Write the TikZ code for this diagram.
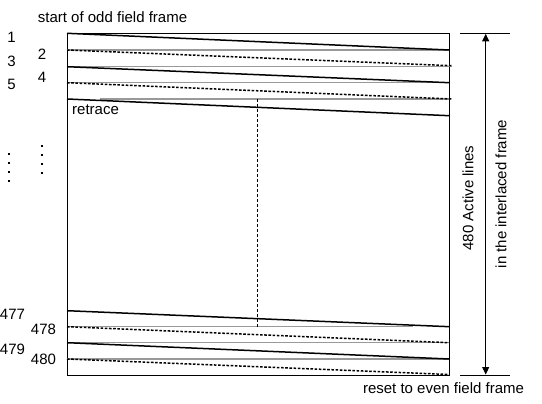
\documentclass[tikz,border=0pt]{standalone}
\usepackage{fontspec}
\setmainfont{Liberation Sans}
\usetikzlibrary{arrows.meta}
\begin{document}
\begin{tikzpicture}[x=1pt,y=-1pt,
  lbl/.style={inner sep=0pt,font=\fontsize{15}{17}\selectfont},
  scanline/.style={line width=1.5pt,black},
  evenline/.style={line width=1.5pt,black,dash pattern=on 2.6pt off 1.6pt},
  grayline/.style={line width=1.5pt,black!40},
  frame/.style={line width=1pt,black},
  dot/.style={fill=black,inner sep=0pt,minimum size=1.8pt,rectangle}]
\useasboundingbox (0,0) rectangle (542,404);
% box
\draw[frame] (67,33.3) rectangle (449.3,375);
% gray horizontal retrace lines
\draw[grayline] (67,50) -- (449.3,50);
\draw[grayline] (67,66.7) -- (452,66.7);
\draw[grayline] (67,82.7) -- (449.3,82.7);
\draw[grayline] (100,99) -- (449.3,99);
\draw[grayline] (67,326.7) -- (413,326.7);
\draw[grayline] (67,342.7) -- (449.3,342.7);
\draw[grayline] (67,359) -- (449.3,359);
% scan lines
\coordinate (l1a) at (67,33.3);  \coordinate (l1b) at (449.3,50);
\coordinate (l2a) at (67,50);    \coordinate (l2b) at (451.5,65.7);
\coordinate (l3a) at (67,66.7);  \coordinate (l3b) at (449.3,82.7);
\coordinate (l4a) at (67,82.7);  \coordinate (l4b) at (451.5,99);
\coordinate (l5a) at (67,99);    \coordinate (l5b) at (449.3,115.7);
\draw[scanline] (l1a) -- (l1b);
\draw[evenline] (l2a) -- (l2b);
\draw[scanline] (l3a) -- (l3b);
\draw[evenline] (l4a) -- (l4b);
\draw[scanline] (l5a) -- (l5b);
\coordinate (m1a) at (67,310.7);  \coordinate (m1b) at (449.3,326.7);
\coordinate (m2a) at (67,326.7);  \coordinate (m2b) at (449.3,342.7);
\coordinate (m3a) at (67,342.7);  \coordinate (m3b) at (449.3,359);
\coordinate (m4a) at (67,359);    \coordinate (m4b) at (449.3,374.5);
\draw[scanline] (m1a) -- (m1b);
\draw[evenline] (m2a) -- (m2b);
\draw[scanline] (m3a) -- (m3b);
\draw[evenline] (m4a) -- (m4b);
% dashed vertical
\coordinate (va) at (257.3,99);
\coordinate (vb) at (257.3,327);
\draw[line width=0.8pt,dash pattern=on 3pt off 2pt] (va) -- (vb);
% right dimension
\coordinate (t1) at (460,33.3); \coordinate (t2) at (510,33.3);
\coordinate (b1) at (460,375);  \coordinate (b2) at (510,375);
\draw[line width=1pt] (t1) -- (t2);
\draw[line width=1pt] (b1) -- (b2);
\coordinate (at) at (485.7,33.8);
\coordinate (ab) at (485.7,374.5);
\draw[line width=1pt,{Triangle[length=7.5pt,width=7pt]}-{Triangle[length=7.5pt,width=7pt]}] (at) -- (ab);
% labels
\node[lbl] (start) at (112.5,17) {start of odd field frame};
\node[lbl] (n1) at (11.5,37.5) {1};
\node[lbl] (n3) at (11.5,61) {3};
\node[lbl] (n5) at (11.5,84) {5};
\node[lbl] (n2) at (42,54) {2};
\node[lbl] (n4) at (42,77.5) {4};
\node[lbl,anchor=west] (retrace) at (72,110) {retrace};
\node[lbl] (n477) at (12.5,314) {477};
\node[lbl] (n478) at (43.5,329) {478};
\node[lbl] (n479) at (12.5,349) {479};
\node[lbl] (n480) at (43.5,359) {480};
\node[lbl] (reset) at (443.5,388) {reset to even field frame};
\node[lbl,rotate=90] (active) at (468,198) {480 Active lines};
\node[lbl,rotate=90] (inter) at (501,194) {in the interlaced frame};
% vertical ellipsis dots
\foreach \yy [count=\i] in {154,163,172,181} \node[dot] (dl\i) at (9,\yy) {};
\foreach \yy [count=\i] in {145.7,154.7,163.7,172.7} \node[dot] (dr\i) at (42,\yy) {};
\end{tikzpicture}
\end{document}
